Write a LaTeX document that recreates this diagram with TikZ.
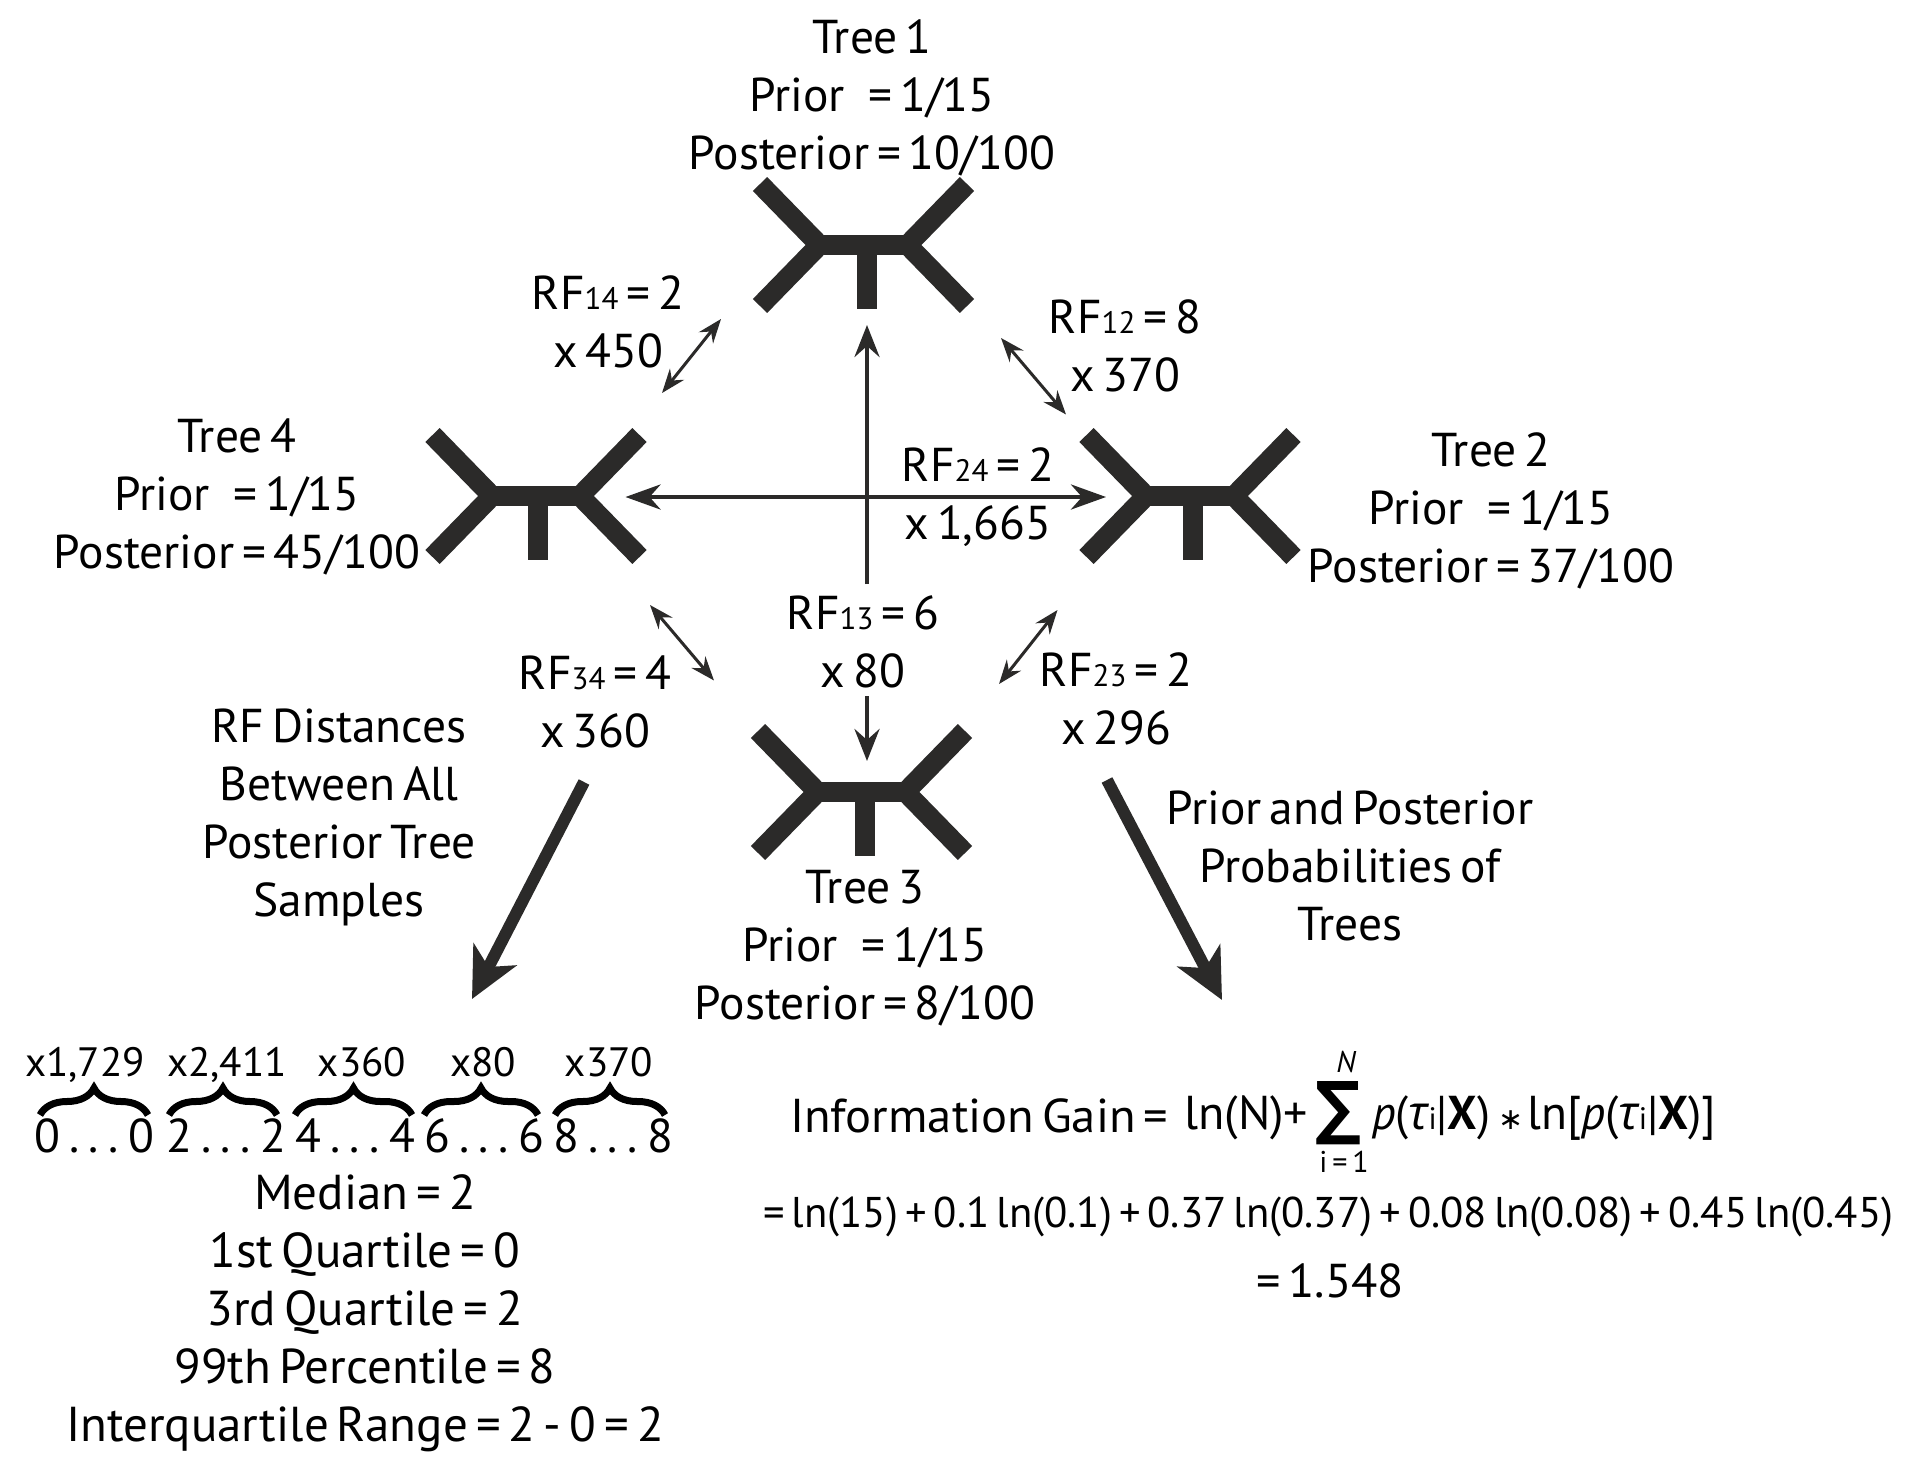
\documentclass[tikz,border=0pt]{standalone}
\usepackage{fontspec}
\setmainfont[WordSpace=0.62]{PT Sans}
\newfontfamily\greekit[ItalicFont=* Italic]{Open Sans}
\newfontfamily\symf{DejaVu Sans}
\usetikzlibrary{arrows.meta,decorations.pathreplacing}
\definecolor{ink}{HTML}{2B2A29}
\newcommand{\sbs}[1]{{\fontsize{31}{31}\selectfont #1}}
\newcommand{\fitw}[2]{\resizebox{#1pt}{\height}{#2}}
\newcommand{\pgap}{\ \ \kern8pt}
\newcommand{\phylo}[4]{%
  \begin{scope}[shift={(#2,#3)}]
    \coordinate (#1) at (0,0);
    \draw[treeline] (-103.5,-61) -- (-44,0) -- (-103.5,61);
    \draw[treeline] (103.5,-61) -- (44,0) -- (103.5,61);
    \draw[treeline] (-44,0) -- (44,0);
    \draw[treeline] (#4,0) -- (#4,64);
  \end{scope}}
\tikzset{
  x=1pt,y=-1pt,
  treeline/.style={draw=ink,line width=20pt,line join=miter,miter limit=10},
  lbl/.style={inner sep=0pt,align=center,font=\fontsize{47.5}{58}\selectfont,text=black},
  stat/.style={inner sep=0pt,align=center,font=\fontsize{49}{58}\selectfont,text=black},
  small/.style={inner sep=0pt,anchor=base,font=\fontsize{41}{46}\selectfont,text=black},
  eqn/.style={inner sep=0pt,font=\fontsize{43}{50}\selectfont,text=black},
  thinarrow/.style={draw=ink,line width=3pt,{Stealth[length=24pt,width=18pt,inset=8pt]}-{Stealth[length=24pt,width=18pt,inset=8pt]}},
  midarrow/.style={draw=ink,line width=4.5pt,-{Stealth[length=32pt,width=25pt,inset=11pt]}},
  bigarrow/.style={draw=ink,line width=12pt,-{Stealth[length=50pt,width=48pt,inset=14pt]}},
  bracket/.style={draw=black,line width=7pt,decorate,decoration={brace,amplitude=27pt}},
}
\begin{document}
\begin{tikzpicture}
\useasboundingbox[fill=white] (0,0) rectangle (1913,1466);

\phylo{treeA}{863.5}{245}{3.5}
\phylo{treeD}{536}{496}{2}
\phylo{treeB}{1190}{496}{3}
\phylo{treeC}{861.5}{792}{3.5}

\node[lbl] (lblA) at (872,98) {Tree 1\\Prior\pgap= 1/15\\Posterior = 10/100};
\node[lbl] (lblD) at (237,496.5) {Tree 4\\Prior\pgap= 1/15\\Posterior = 45/100};
\node[lbl] (lblB) at (1491,511) {Tree 2\\Prior\pgap= 1/15\\Posterior = 37/100};
\node[lbl] (lblC) at (865,948) {Tree 3\\Prior\pgap= 1/15\\Posterior = 8/100};

\node[lbl] (rfAD) at (608,322) {RF\sbs{14} = 2\\x 450};
\node[lbl] (rfAB) at (1125,346) {RF\sbs{12} = 8\\x 370};
\node[lbl] (rfBD) at (978,497) {RF\sbs{24} = 2\\x 1,665};
\node[lbl] (rfAC) at (863,642) {RF\sbs{13} = 6\\x 80};
\node[lbl] (rfCD) at (595,702) {RF\sbs{34} = 4\\x 360};
\node[lbl] (rfBC) at (1116,699) {RF\sbs{23} = 2\\x 296};

\node[lbl] (capL) at (339,817) {RF Distances\\Between All\\Posterior Tree\\Samples};
\node[lbl] (capR) at (1350,865.5) {Prior and Posterior\\Probabilities of\\Trees};

% connectors
\coordinate (a1) at (867,584); \coordinate (a2) at (867,325);
\draw[midarrow] (a1) -- (a2);
\coordinate (b1) at (867,696); \coordinate (b2) at (867,761);
\draw[midarrow] (b1) -- (b2);
\coordinate (c1) at (625.5,497); \coordinate (c2) at (1106,497);
\draw[midarrow,{Stealth[length=35pt,width=25pt,inset=11pt]}-{Stealth[length=35pt,width=25pt,inset=11pt]}] (c1) -- (c2);
\coordinate (d1) at (662,393); \coordinate (d2) at (721,319);
\draw[thinarrow] (d1) -- (d2);
\coordinate (e1) at (1001,338); \coordinate (e2) at (1066,414.5);
\draw[thinarrow] (e1) -- (e2);
\coordinate (f1) at (650,605); \coordinate (f2) at (714,680.5);
\draw[thinarrow] (f1) -- (f2);
\coordinate (g1) at (1057.5,610); \coordinate (g2) at (999,684);
\draw[thinarrow] (g1) -- (g2);
\coordinate (h1) at (584,782); \coordinate (h2) at (472,999);
\draw[bigarrow] (h1) -- (h2);
\coordinate (i1) at (1107,780); \coordinate (i2) at (1222,1000);
\draw[bigarrow] (i1) -- (i2);

% distance counts
\node[small] (n1) at (85,1076) {x1,729};
\node[small] (n2) at (227,1076) {x2,411};
\node[small] (n3) at (362,1076) {x360};
\node[small] (n4) at (483,1076) {x80};
\node[small] (n5) at (609,1076) {x370};

\coordinate (p1a) at (40,1115); \coordinate (p1b) at (148,1115);
\coordinate (p2a) at (169,1115); \coordinate (p2b) at (277,1115);
\coordinate (p3a) at (295,1115); \coordinate (p3b) at (412,1115);
\coordinate (p4a) at (424,1115); \coordinate (p4b) at (538,1115);
\coordinate (p5a) at (555,1115); \coordinate (p5b) at (665,1115);
\draw[bracket] (p1a) -- (p1b);
\draw[bracket] (p2a) -- (p2b);
\draw[bracket] (p3a) -- (p3b);
\draw[bracket] (p4a) -- (p4b);
\draw[bracket] (p5a) -- (p5b);

\node[lbl] (r1) at (94,1136) {\makebox[120pt][s]{0\hfil.\hfil.\hfil.\hfil0}};
\node[lbl] (r2) at (226,1136) {\makebox[120pt][s]{2\hfil.\hfil.\hfil.\hfil2}};
\node[lbl] (r3) at (355,1136) {\makebox[120pt][s]{4\hfil.\hfil.\hfil.\hfil4}};
\node[lbl] (r4) at (484,1136) {\makebox[120pt][s]{6\hfil.\hfil.\hfil.\hfil6}};
\node[lbl] (r5) at (613,1136) {\makebox[120pt][s]{8\hfil.\hfil.\hfil.\hfil8}};

\node[stat] (stats) at (365,1313) {Median = 2\\1st Quartile = 0\\3rd Quartile = 2\\99th Percentile = 8\\Interquartile Range = 2 - 0 = 2};

% equation
\node[lbl,anchor=base west] (igA) at (790,1132) {\fitw{378}{Information Gain =}};
\node[lbl,anchor=base west] (igB) at (1184,1129) {\fitw{124}{ln(N)+}};
\node[inner sep=0pt] (igS) at (1338,1113) {\resizebox{46pt}{50pt}{\symf\bfseries ∑}};
\node[inner sep=0pt,font=\fontsize{30}{30}\selectfont\itshape] (igN) at (1346,1062) {N};
\node[inner sep=0pt,font=\fontsize{30}{30}\selectfont] (igI) at (1344,1162) {i = 1};
\node[lbl,anchor=base west] (igC) at (1372,1129) {\fitw{118}{\textit{p}({\greekit\itshape τ}\sbs{i}|\textbf{X})}};
\node[inner sep=0pt,font=\fontsize{30}{30}\selectfont] (igM) at (1511,1120) {\symf ∗};
\node[lbl,anchor=base west] (igD) at (1527,1129) {\fitw{189}{ln[\textit{p}({\greekit\itshape τ}\sbs{i}|\textbf{X})]}};
\node[eqn,anchor=base west] (l2) at (763,1227) {\fitw{1130}{= ln(15) + 0.1 ln(0.1) + 0.37 ln(0.37) + 0.08 ln(0.08) + 0.45 ln(0.45)}};
\node[lbl,anchor=base west] (l3) at (1256,1297) {\fitw{148}{= 1.548}};
\end{tikzpicture}
\end{document}
